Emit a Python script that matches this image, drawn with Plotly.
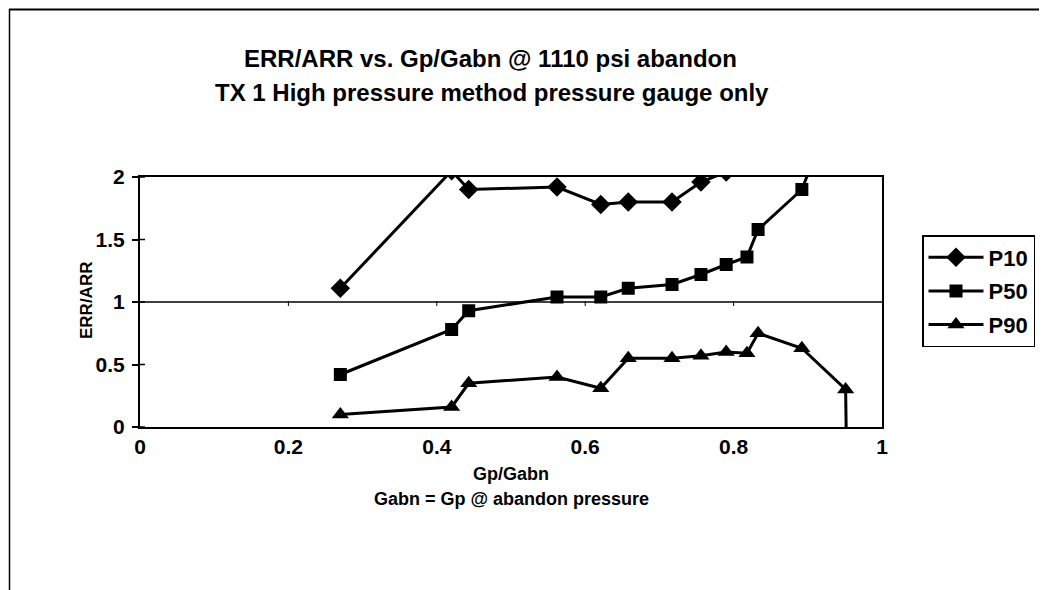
import plotly.graph_objects as go

gp_gabn = [0.27, 0.42, 0.443, 0.562, 0.621, 0.658, 0.717, 0.756, 0.790, 0.818, 0.833, 0.892, 0.951]
p10 = [1.11, 2.05, 1.90, 1.92, 1.78, 1.80, 1.80, 1.96, 2.04, 2.30, 2.55, 3.00, 3.50]
p50 = [0.42, 0.78, 0.93, 1.04, 1.04, 1.11, 1.14, 1.22, 1.30, 1.36, 1.58, 1.90, 2.80]
p90_x = [0.27, 0.42, 0.443, 0.562, 0.621, 0.658, 0.717, 0.756, 0.790, 0.818, 0.833, 0.892, 0.951, 0.953]
p90 = [0.10, 0.16, 0.35, 0.40, 0.31, 0.55, 0.55, 0.57, 0.60, 0.59, 0.75, 0.63, 0.30, -0.60]

x_ticks = [0, 0.2, 0.4, 0.6, 0.8, 1]
x_tick_text = ["0", "0.2", "0.4", "0.6", "0.8", "1"]
y_ticks = [0, 0.5, 1, 1.5, 2]
y_tick_text = ["0", "0.5", "1", "1.5", "2"]

FONT = "Liberation Sans, Arial, sans-serif"
OFF = 8  # page body margin

# plot-area position in the photographed page
L, R, T, B = 140, 882, 177, 427
W, H = R - L, B - T


def px(xp):
    return (xp - L) / W


def py(yp):
    return (B - yp) / H


fig = go.Figure()
line = dict(color="black", width=3)
fig.add_trace(go.Scatter(x=gp_gabn, y=p10, name="<b>P10</b>", mode="lines+markers", legendgroup="a",
                         line=line, marker=dict(symbol="diamond", size=15, color="black")))
fig.add_trace(go.Scatter(x=gp_gabn, y=p50, name="<b>P50</b>", mode="lines+markers", legendgroup="b",
                         line=line, marker=dict(symbol="square", size=13, color="black")))
fig.add_trace(go.Scatter(x=p90_x, y=p90, name="<b>P90</b>", mode="lines+markers", legendgroup="c",
                         line=line, marker=dict(symbol="triangle-up", size=15, color="black")))

shapes = []
# horizontal axis crossing at y = 1
shapes.append(dict(type="line", xref="x", yref="y", x0=0, x1=1, y0=1, y1=1,
                   line=dict(color="black", width=1.5), layer="below"))
for t in x_ticks[1:-1]:
    shapes.append(dict(type="line", xref="x", yref="y", xsizemode="scaled",
                       ysizemode="pixel", yanchor=1, x0=t, x1=t, y0=-4, y1=1,
                       line=dict(color="black", width=1)))
# y ticks crossing inside
for t in y_ticks:
    shapes.append(dict(type="line", xref="x", yref="y", xsizemode="pixel", xanchor=0,
                       x0=0, x1=5, y0=t, y1=t, line=dict(color="black", width=1.5)))
# outer chart border (top and left)
shapes.append(dict(type="line", xref="paper", yref="paper",
                   x0=px(9), x1=px(1060), y0=py(9.5), y1=py(9.5),
                   line=dict(color="black", width=2)))
shapes.append(dict(type="line", xref="paper", yref="paper",
                   x0=px(9.5), x1=px(9.5), y0=py(9), y1=py(600),
                   line=dict(color="black", width=1.5)))


def ann(text, x, y, size, angle=0):
    return dict(text=text, xref="paper", yref="paper", x=px(x), y=py(y),
                xanchor="center", yanchor="middle", showarrow=False, textangle=angle,
                font=dict(size=size, family=FONT, color="black"))


annotations = [
    ann("<b>ERR/ARR vs. Gp/Gabn @ 1110 psi abandon</b>", 490, 58, 24),
    ann("<b>TX 1 High pressure method pressure gauge only</b>", 492, 93, 24),
    ann("<b>Gp/Gabn</b>", 511, 474, 18),
    ann("<b>Gabn = Gp @ abandon pressure</b>", 511, 499, 18),
    ann("<b>ERR/ARR</b>", 86, 301, 17, -90),
]

fig.update_layout(
    width=1047, height=590,
    margin=dict(l=L - OFF, r=1047 - R + OFF, t=T - OFF, b=590 - B + OFF),
    paper_bgcolor="white", plot_bgcolor="white",
    font=dict(family=FONT, color="black", size=17),
    showlegend=True,
    legend=dict(x=px(922), y=py(235), xanchor="left", yanchor="top",
                bordercolor="black", borderwidth=1.5, bgcolor="white",
                font=dict(size=22, family=FONT, color="black"),
                itemwidth=55, tracegroupgap=2),
    shapes=shapes,
    annotations=annotations,
)
fig.update_xaxes(range=[0, 1], tickvals=x_ticks, ticktext=["<b>%s</b>" % t for t in x_tick_text],
                 showgrid=False, zeroline=False, showline=True, mirror=True,
                 linecolor="black", linewidth=2, ticks="", ticklabelstandoff=0,
                 tickfont=dict(size=21, family=FONT, color="black"))
fig.update_yaxes(range=[0, 2], tickvals=y_ticks, ticktext=["<b>%s</b>" % t for t in y_tick_text],
                 showgrid=False, zeroline=False, showline=True, mirror=True,
                 linecolor="black", linewidth=2, ticks="outside", ticklen=6, tickwidth=1.5,
                 ticklabelstandoff=3,
                 tickcolor="black", tickfont=dict(size=21, family=FONT, color="black"))

fig.write_html("out.html")
